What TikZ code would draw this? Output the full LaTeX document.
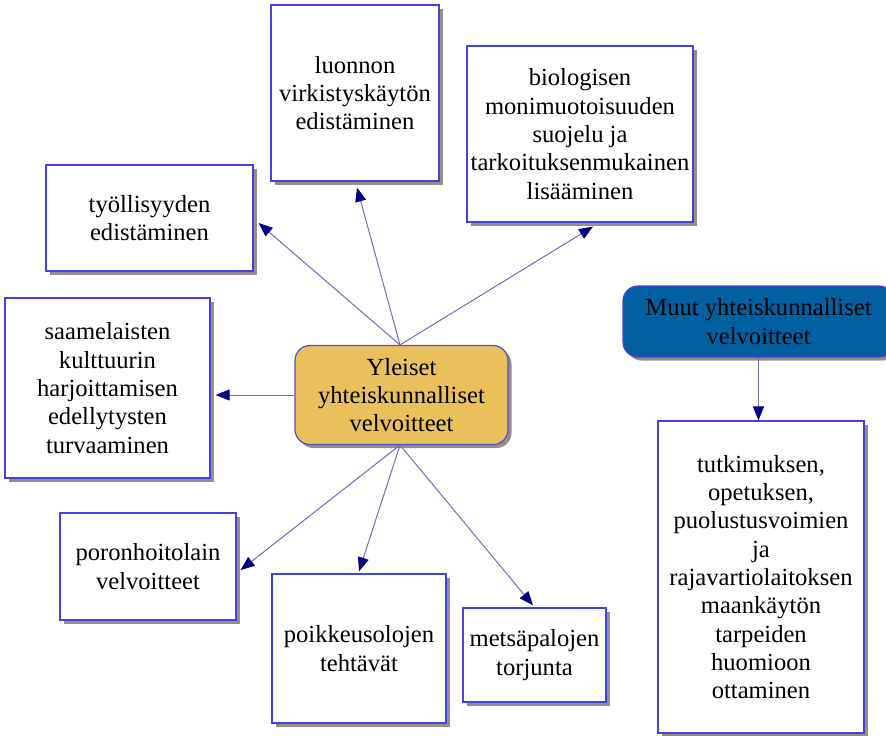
\documentclass[tikz,border=0pt]{standalone}
\usepackage{fontspec}
\setmainfont{Liberation Serif}
\usetikzlibrary{arrows.meta,shadows,calc}
\definecolor{boxblue}{RGB}{66,66,222}
\definecolor{shadowgray}{RGB}{150,140,136}
\definecolor{arrline}{RGB}{110,110,185}
\definecolor{tipnavy}{RGB}{0,0,128}
\definecolor{goldfill}{RGB}{234,192,92}
\definecolor{bluefill}{RGB}{0,96,160}
\definecolor{centerborder}{RGB}{80,80,200}
\begin{document}
\begin{tikzpicture}[x=1pt,y=-1pt,
  box/.style={draw=boxblue, line width=1.2pt, fill=white, inner sep=0pt, align=center,
    font=\fontsize{24.6}{28.3}\selectfont,
    drop shadow={shadow xshift=3.5pt,shadow yshift=-3.5pt,fill=shadowgray,opacity=1}},
  roundbox/.style={box, rounded corners=15pt},
  arr/.style={draw=arrline, line width=1pt,
    -{Triangle[length=14pt,width=11pt,color=tipnavy,fill=tipnavy]}}]
\useasboundingbox (0,0) rectangle (886,736);
% central
\node[roundbox, fill=goldfill, draw=centerborder, minimum width=213pt, minimum height=99pt] (C) at (401.5,395)
  {Yleiset\\yhteiskunnalliset\\velvoitteet};
% upper boxes
\node[box, minimum width=168pt, minimum height=176pt] (L) at (355,93)
  {luonnon\\virkistyskäytön\\edistäminen};
\node[box, minimum width=226pt, minimum height=176pt] (B) at (580,134)
  {biologisen\\monimuotoisuuden\\suojelu ja\\tarkoituksenmukainen\\lisääminen};
\node[box, minimum width=207pt, minimum height=106pt] (T) at (149.5,218)
  {työllisyyden\\edistäminen};
\node[box, minimum width=205pt, minimum height=180pt] (S) at (107.5,388)
  {saamelaisten\\kulttuurin\\harjoittamisen\\edellytysten\\turvaaminen};
% lower boxes
\node[box, minimum width=176pt, minimum height=107pt] (P) at (148,566.5)
  {poronhoitolain\\velvoitteet};
\node[box, minimum width=174pt, minimum height=149pt] (K) at (359,648.5)
  {poikkeusolojen\\tehtävät};
\node[box, minimum width=143pt, minimum height=94pt] (M) at (534.5,655)
  {metsäpalojen\\torjunta};
% right side
\node[roundbox, fill=bluefill, draw=boxblue, minimum width=271pt, minimum height=71pt] (U) at (758.5,321.5)
  {Muut yhteiskunnalliset\\velvoitteet};
\node[box, minimum width=206pt, minimum height=312pt] (R) at (761,577)
  {tutkimuksen,\\opetuksen,\\puolustusvoimien\\ja\\rajavartiolaitoksen\\maankäytön\\tarpeiden\\huomioon\\ottaminen};
% connectors
\draw[arr] ([xshift=-1.5pt]C.north) -- ($(L.south)+(2,6)$);
\draw[arr] ([xshift=-1.5pt]C.north) -- ($(B.south)+(13,4)$);
\draw[arr] ([xshift=-1.5pt]C.north) -- ($(T.east)+(5,5)$);
\draw[arr] (C.west) -- ($(C.west -| S.east)+(5,0)$);
\draw[arr] ([xshift=-1.5pt]C.south) -- ($(P.east)+(4,3.5)$);
\draw[arr] ([xshift=-1.5pt]C.south) -- ($(K.north)+(0,-2)$);
\draw[arr] ([xshift=-1.5pt]C.south) -- ($(M.north)+(-1.5,-2)$);
\draw[arr] (U.south) -- (U.south |- R.north);
\end{tikzpicture}
\end{document}
